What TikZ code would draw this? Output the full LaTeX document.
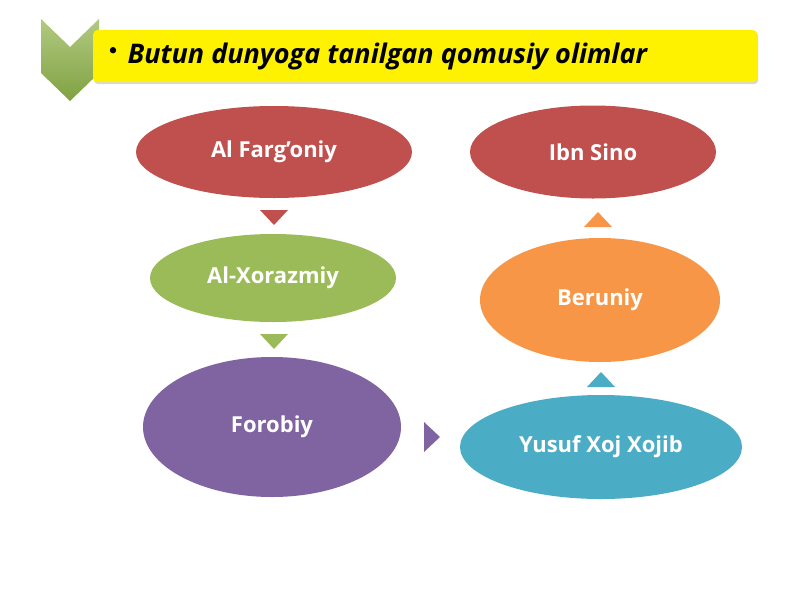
\documentclass[tikz,border=0pt]{standalone}
\usepackage{fontspec}
\setmainfont{Open Sans}
\usetikzlibrary{shapes.geometric,shadows,calc}
\definecolor{cred}{HTML}{C0504D}
\definecolor{cgreen}{HTML}{9BBB59}
\definecolor{cpurple}{HTML}{8064A2}
\definecolor{cblue}{HTML}{4BACC6}
\definecolor{corange}{HTML}{F79646}
\definecolor{chev}{HTML}{8FB34A}
\tikzset{
  oval/.style={ellipse, inner sep=0pt, text=white, font=\fontsize{22}{24}\selectfont\bfseries},
}
\begin{document}
\begin{tikzpicture}[x=1pt,y=-1pt]
\useasboundingbox (0,0) rectangle (800,600);
\fill[white] (0,0) rectangle (800,600);
% chevron
\shade[top color=chev!70!white, bottom color=chev!90!black]
  (41,19) -- (70,47) -- (99,19) -- (99,73) -- (70,101) -- (41,73) -- cycle;
% title bar
\node[fill=yellow, rounded corners=4pt, minimum width=664pt, minimum height=52pt, anchor=north west,
  drop shadow={shadow xshift=1pt, shadow yshift=-2pt, opacity=0.3}] (bar) at (93,30) {};
\node[anchor=west, font=\fontsize{27}{30}\selectfont\bfseries\itshape] (title) at (124,56) {Butun dunyoga tanilgan qomusiy olimlar};
\fill (bar.west) ++(20,-6) circle (3.2pt) coordinate (bul);
% ellipses
\node[oval, fill=cred, minimum width=276pt, minimum height=92pt] (farg) at (274,152) {Al Farg’oniy};
\node[oval, fill=cgreen, minimum width=246pt, minimum height=88pt] (xor) at (273,278) {Al-Xorazmiy};
\node[oval, fill=cpurple, minimum width=258pt, minimum height=140pt] (foro) at (272,427) {Forobiy};
\node[oval, fill=cblue, minimum width=282pt, minimum height=104pt] (yus) at (601,447) {Yusuf Xoj Xojib};
\node[oval, fill=corange, minimum width=240pt, minimum height=124pt] (ber) at (600,300) {Beruniy};
\node[oval, fill=cred, minimum width=246pt, minimum height=93pt] (ibn) at (593,152) {Ibn Sino};
% arrow triangles
\coordinate (a1) at (274,210);
\fill[cred] ($(a1)+(-14,0)$) -- ($(a1)+(14,0)$) -- ($(a1)+(0,15)$) -- cycle;
\coordinate (a2) at (274,334);
\fill[cgreen] ($(a2)+(-14,0)$) -- ($(a2)+(14,0)$) -- ($(a2)+(0,15)$) -- cycle;
\coordinate (a3) at (424,437);
\fill[cpurple] ($(a3)+(0,-15)$) -- ($(a3)+(0,15)$) -- ($(a3)+(16,0)$) -- cycle;
\coordinate (a4) at (601,387);
\fill[cblue] ($(a4)+(-14,0)$) -- ($(a4)+(14,0)$) -- ($(a4)+(0,-15)$) -- cycle;
\coordinate (a5) at (598,227);
\fill[corange] ($(a5)+(-14,0)$) -- ($(a5)+(14,0)$) -- ($(a5)+(0,-15)$) -- cycle;
\end{tikzpicture}
\end{document}
